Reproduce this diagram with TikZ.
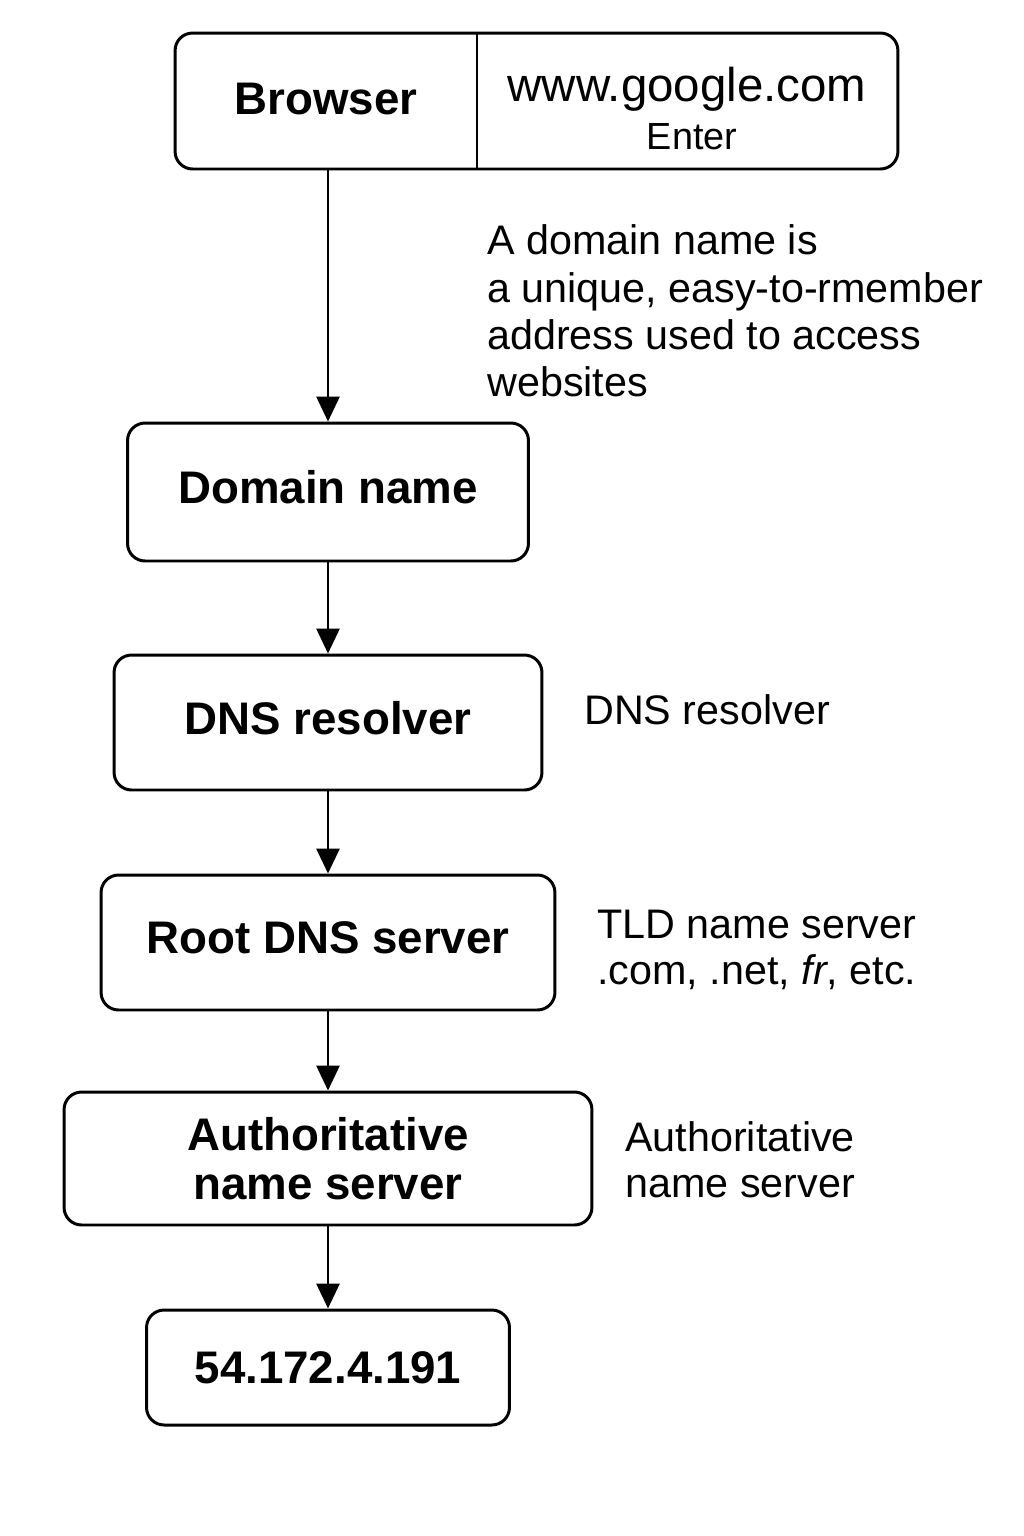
\documentclass[tikz,border=0pt]{standalone}
\usepackage{fontspec}
\setmainfont{Liberation Sans}
\usetikzlibrary{arrows.meta}

\begin{document}
\begin{tikzpicture}[x=0.02cm,y=-0.02cm,
		box/.style={draw,line width=1.7pt,rounded corners=10pt,inner sep=0pt,align=center,font=\fontsize{26}{28}\selectfont\bfseries},
		onebox/.style={box,text depth=0.2cm},
		note/.style={anchor=west,inner sep=0pt,align=left,font=\fontsize{23.5}{26}\selectfont},
		flow/.style={line width=1.7pt,-{Triangle[length=0.5cm,width=0.46cm]}}]
		\useasboundingbox (0,0) rectangle (1024,1536);
		\node (browser) [box,minimum width=14.46cm,minimum height=2.72cm] at (536.5,101) {};
		\coordinate (split) at (477,101);
		\draw [line width=1.7pt] (split |- browser.north) -- (split |- browser.south);
		\node (brlabel) [inner sep=0pt,font=\fontsize{26}{28}\selectfont\bfseries] at (326,99) {Browser};
		\node (url) [inner sep=0pt,font=\fontsize{27}{30}\selectfont] at (687,89) {www.google.com};
		\node (enter) [inner sep=0pt,font=\fontsize{21.5}{24}\selectfont] at (692,137) {Enter};
		\node (domain) [onebox,minimum width=8.02cm,minimum height=2.76cm] at (328,492) {Domain name};
		\node (resolver) [onebox,minimum width=8.56cm,minimum height=2.7cm] at (328,722.5) {DNS resolver};
		\node (root) [onebox,minimum width=9.08cm,minimum height=2.7cm] at (328,942.5) {Root DNS server};
		\node (auth) [box,minimum width=10.56cm,minimum height=2.66cm] at (328,1158.5) {Authoritative\\name server};
		\node (ip) [box,minimum width=7.26cm,minimum height=2.3cm] at (328,1367.5) {54.172.4.191};
		\node (domnote) [note,font=\fontsize{23.5}{27}\selectfont] at (487,311) {A domain name is\\a unique, easy-to-rmember\\address used to access\\websites};
		\node (resnote) [note] at (584,710) {DNS resolver};
		\node (tldnote) [note] at (597,950) {TLD name server\\.com, .net, \textit{fr}, etc.};
		\node (authnote) [note] at (625,1160) {Authoritative\\name server};
		\draw [flow] (domain.north |- browser.south) -- (domain.north);
		\draw [flow] (domain) -- (resolver);
		\draw [flow] (resolver) -- (root);
		\draw [flow] (root) -- (auth);
		\draw [flow] (auth) -- (ip);
	\end{tikzpicture}
\end{document}
